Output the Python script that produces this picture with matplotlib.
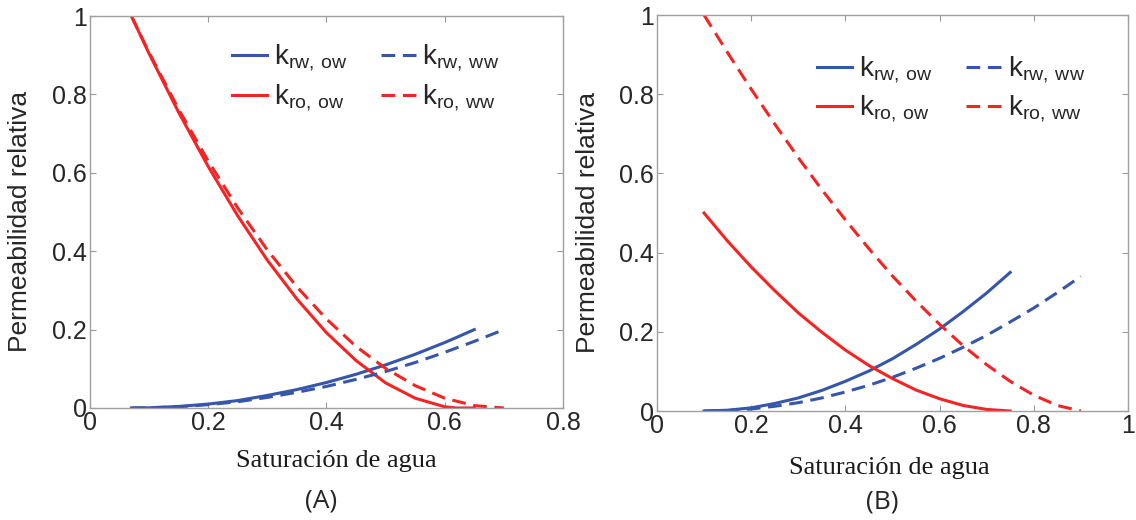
import numpy as np
import matplotlib
matplotlib.use('Agg')
import matplotlib.pyplot as plt

# --- datos ---
# (A) mojabilidad: curvas ow (continua) y ww (discontinua)
sw_a_ow = [0.07, 0.10, 0.15, 0.20, 0.25, 0.30, 0.35, 0.40, 0.45, 0.50, 0.55, 0.60, 0.62, 0.65]
krw_a_ow = [0.0, 0.0005, 0.004, 0.010, 0.019, 0.032, 0.047, 0.065, 0.086, 0.110, 0.137, 0.167, 0.180, 0.200]
kro_a_ow = [1.0, 0.904, 0.754, 0.616, 0.490, 0.377, 0.278, 0.192, 0.121, 0.064, 0.025, 0.003, 0.0, 0.0]

sw_a_ww = [0.07, 0.10, 0.15, 0.20, 0.25, 0.30, 0.35, 0.40, 0.45, 0.50, 0.55, 0.60, 0.65, 0.70]
krw_a_ww = [0.0, 0.0005, 0.003, 0.0085, 0.016, 0.027, 0.040, 0.055, 0.073, 0.093, 0.116, 0.142, 0.170, 0.200]
kro_a_ww = [1.0, 0.907, 0.762, 0.630, 0.510, 0.403, 0.309, 0.227, 0.157, 0.101, 0.057, 0.025, 0.006, 0.0]

# (B)
sw_b_ow = [0.10, 0.15, 0.20, 0.25, 0.30, 0.35, 0.40, 0.45, 0.50, 0.55, 0.60, 0.65, 0.70, 0.75]
krw_b_ow = [0.0, 0.002, 0.008, 0.019, 0.033, 0.052, 0.075, 0.101, 0.132, 0.168, 0.207, 0.251, 0.298, 0.350]
kro_b_ow = [0.5, 0.429, 0.364, 0.304, 0.248, 0.199, 0.154, 0.115, 0.082, 0.053, 0.031, 0.014, 0.004, 0.0]

sw_b_ww = [0.10, 0.15, 0.20, 0.25, 0.30, 0.35, 0.40, 0.45, 0.50, 0.55, 0.60, 0.65, 0.70, 0.75, 0.80, 0.85, 0.90]
krw_b_ww = [0.0, 0.001, 0.005, 0.012, 0.021, 0.033, 0.048, 0.065, 0.085, 0.108, 0.133, 0.161, 0.191, 0.225, 0.260, 0.299, 0.340]
kro_b_ww = [1.0, 0.905, 0.813, 0.725, 0.640, 0.559, 0.483, 0.410, 0.341, 0.278, 0.219, 0.165, 0.117, 0.075, 0.040, 0.014, 0.0]

xticks_a = [0, 0.2, 0.4, 0.6, 0.8]
xticks_b = [0, 0.2, 0.4, 0.6, 0.8, 1]
yticks = [0, 0.2, 0.4, 0.6, 0.8, 1]

labels = [r'k$_{\mathrm{rw,\,ow}}$', r'k$_{\mathrm{ro,\,ow}}$',
          r'k$_{\mathrm{rw,\,ww}}$', r'k$_{\mathrm{ro,\,ww}}$']

blue = '#3656ad'
red = '#f22424'
dash = (4.5, 2.5)

plt.rcParams['font.family'] = 'Liberation Sans'
plt.rcParams['mathtext.fontset'] = 'custom'
plt.rcParams['mathtext.rm'] = 'Liberation Sans'

fig = plt.figure(figsize=(11.36, 5.2), dpi=100)
ax1 = fig.add_axes([0.0792, 0.2154, 0.4164, 0.7538])
ax2 = fig.add_axes([0.5783, 0.2096, 0.4146, 0.7615])


def panel(ax, sw_ow, krw_ow, kro_ow, sw_ww, krw_ww, kro_ww, xticks, xmax):
    h1, = ax.plot(sw_ow, krw_ow, color=blue, lw=2.2)
    h2, = ax.plot(sw_ow, kro_ow, color=red, lw=2.2)
    h3, = ax.plot(sw_ww, krw_ww, color=blue, lw=2.2, dashes=dash)
    h4, = ax.plot(sw_ww, kro_ww, color=red, lw=2.2, dashes=dash)
    ax.set_xlim(0, xmax)
    ax.set_ylim(0, 1)
    ax.set_xticks(xticks)
    ax.set_yticks(yticks)
    ax.set_xticklabels(['%g' % t for t in xticks])
    ax.set_yticklabels(['%g' % t for t in yticks])
    ax.tick_params(direction='in', top=True, right=True, length=4, width=0.8,
                   color='#999999', labelsize=18, labelcolor='#262626', pad=2)
    for s in ax.spines.values():
        s.set_color('#a0a0a0')
        s.set_linewidth(1.0)
    ax.set_ylabel('Permeabilidad relativa', fontsize=19, color='#262626')
    ax.set_xlabel('Saturación de agua', fontsize=19, family='Liberation Serif', color='#1a1a1a')
    return [h1, h2, h3, h4]


hs = panel(ax1, sw_a_ow, krw_a_ow, kro_a_ow, sw_a_ww, krw_a_ww, kro_a_ww, xticks_a, 0.8)
ax1.yaxis.set_label_coords(-0.123, 0.475)
ax1.xaxis.set_label_coords(0.52, -0.107)
ax1.legend(hs, labels, loc='upper left', bbox_to_anchor=(0.30, 0.93), ncol=2, frameon=False,
           fontsize=20, handlelength=1.25, handletextpad=0.25, columnspacing=1.2,
           labelspacing=0.3, borderpad=0, borderaxespad=0, labelcolor='#262626')

hs = panel(ax2, sw_b_ow, krw_b_ow, kro_b_ow, sw_b_ww, krw_b_ww, kro_b_ww, xticks_b, 1.0)
ax2.yaxis.set_label_coords(-0.121, 0.475)
ax2.xaxis.set_label_coords(0.493, -0.116)
ax2.legend(hs, labels, loc='upper left', bbox_to_anchor=(0.34, 0.90), ncol=2, frameon=False,
           fontsize=20, handlelength=1.25, handletextpad=0.25, columnspacing=1.2,
           labelspacing=0.3, borderpad=0, borderaxespad=0, labelcolor='#262626')

fig.text(321 / 1136, 1 - 501 / 520, '(A)', fontsize=19, family='Open Sans',
         ha='center', va='center', color='#262626')
fig.text(882 / 1136, 1 - 502 / 520, '(B)', fontsize=19, family='Open Sans',
         ha='center', va='center', color='#262626')

plt.savefig('out.png', dpi=100)
